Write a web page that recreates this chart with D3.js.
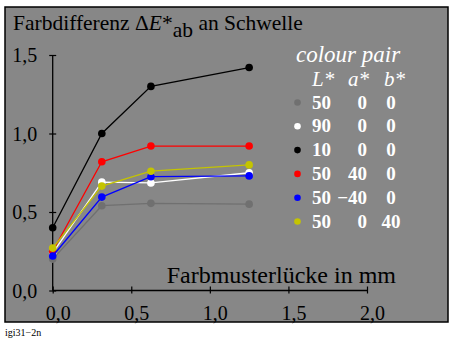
<!DOCTYPE html>
<html><head><meta charset="utf-8">
<script src="https://cdn.jsdelivr.net/npm/d3@7"></script>
<style>
html,body{margin:0;padding:0;background:#fff;}
svg text{font-family:"Liberation Serif","Times New Roman",serif;}
</style></head>
<body><svg id="c" width="450" height="342"></svg>
<script>
const xValues = [0, 0.3125, 0.625, 1.25];
const seriesNames = ["gray","white","black","red","blue","yellow"];
const seriesColors = ["#707070","#ffffff","#000000","#ff0000","#0000ff","#c4c400"];
const grayVals   = [0.20, 0.54, 0.555, 0.55];
const whiteVals  = [0.24, 0.69, 0.685, 0.75];
const blackVals  = [0.40, 1.00, 1.30, 1.42];
const redVals    = [0.25, 0.82, 0.92, 0.92];
const blueVals   = [0.22, 0.595, 0.725, 0.73];
const yellowVals = [0.27, 0.665, 0.76, 0.80];
const legL = ["50","90","10","50","50","50"];
const legA = ["0","0","0","40","\u221240","0"];
const legB = ["0","0","0","0","0","40"];
const xTicks = [0, 0.5, 1.0, 1.5, 2.0];
const yTicks = [0, 0.5, 1.0, 1.5];
const allVals = [grayVals, whiteVals, blackVals, redVals, blueVals, yellowVals];

const FONT = "'Liberation Serif','Times New Roman',serif";
const svg = d3.select("#c");
const fmt = d => d3.format(".1f")(d).replace(".", ",");

svg.append("rect").attr("x",5).attr("y",7).attr("width",443).attr("height",315)
  .attr("fill","#878787").attr("stroke","#000").attr("stroke-width",1.5);

const x = d3.scaleLinear().domain([0,2]).range([52.7,367]);
const y = d3.scaleLinear().domain([0,1.5]).range([290.5,55]);

// title
const t = svg.append("text").attr("x",13).attr("y",30).attr("font-size",21.5).attr("fill","#000");
t.append("tspan").text("Farbdifferenz \u0394");
t.append("tspan").attr("font-style","italic").text("E");
t.append("tspan").text("*");
t.append("tspan").attr("dy",6.5).text("ab");
t.append("tspan").attr("dy",-6.5).text(" an Schwelle");

// axes
const yAxis = d3.axisLeft(y).tickValues(yTicks).tickFormat(fmt).tickSize(3.5).tickPadding(12);
const gy = svg.append("g").attr("transform",`translate(${x(0)},0)`).call(yAxis)
  .attr("font-family",FONT);
gy.select(".domain").remove();
gy.append("line").attr("x1",0).attr("x2",0).attr("y1",y(0)).attr("y2",y(1.5)).attr("stroke","#000").attr("stroke-width",1.3);
gy.selectAll(".tick line").attr("x1",3.5).attr("x2",-3.5).attr("stroke","#000").attr("stroke-width",1.2);
gy.selectAll(".tick text").attr("font-size",20).attr("fill","#000").attr("dy","0.33em");

const xAxis = d3.axisBottom(x).tickValues(xTicks).tickFormat(fmt).tickSize(3).tickPadding(9);
const gx = svg.append("g").attr("transform",`translate(0,${y(0)})`).call(xAxis)
  .attr("font-family",FONT);
gx.select(".domain").remove();
gx.append("line").attr("x1",x(0)).attr("x2",x(2)).attr("y1",0).attr("y2",0).attr("stroke","#000").attr("stroke-width",1.5);
gx.selectAll(".tick line").attr("y1",-4).attr("y2",3).attr("stroke","#000").attr("stroke-width",1.2);
gx.selectAll(".tick text").attr("font-size",20).attr("fill","#000").attr("dx",5).attr("dy","0.85em");

svg.append("text").attr("x",396).attr("y",283).attr("text-anchor","end")
  .attr("font-size",24).attr("fill","#000").text("Farbmusterlücke in mm");

// series
const line = d3.line().x((d,i)=>x(xValues[i])).y(d=>y(d));
allVals.forEach((vals,k)=>{
  const g = svg.append("g");
  g.append("path").datum(vals).attr("d",line).attr("fill","none")
    .attr("stroke",seriesColors[k]).attr("stroke-width",1.3);
  g.selectAll("circle").data(vals).join("circle")
    .attr("cx",(d,i)=>x(xValues[i])).attr("cy",d=>y(d)).attr("r",3.8)
    .attr("fill",seriesColors[k]);
});

// legend
svg.append("text").attr("x",296).attr("y",62).attr("font-size",23).attr("font-style","italic")
  .attr("fill","#fff").text("colour pair");
const hdr = [["L*",312],["a*",348],["b*",384]];
hdr.forEach(h=>svg.append("text").attr("x",h[1]).attr("y",86).attr("font-size",21)
  .attr("font-style","italic").attr("fill","#fff").text(h[0]));
seriesNames.forEach((n,k)=>{
  const by = 108.5 + k*23.8;
  svg.append("circle").attr("cx",297.5).attr("cy",by-6).attr("r",3.3).attr("fill",seriesColors[k]);
  svg.append("text").attr("x",312).attr("y",by).attr("font-size",19).attr("font-weight","bold")
    .attr("fill","#fff").text(legL[k]);
  svg.append("text").attr("x",367).attr("y",by).attr("font-size",19).attr("font-weight","bold")
    .attr("fill","#fff").attr("text-anchor","end").text(legA[k]);
  svg.append("text").attr("x",391).attr("y",by).attr("font-size",19).attr("font-weight","bold")
    .attr("fill","#fff").attr("text-anchor","middle").text(legB[k]);
});

svg.append("text").attr("x",5).attr("y",336).attr("font-size",10).attr("fill","#000").text("igi31\u22122n");
</script></body></html>
